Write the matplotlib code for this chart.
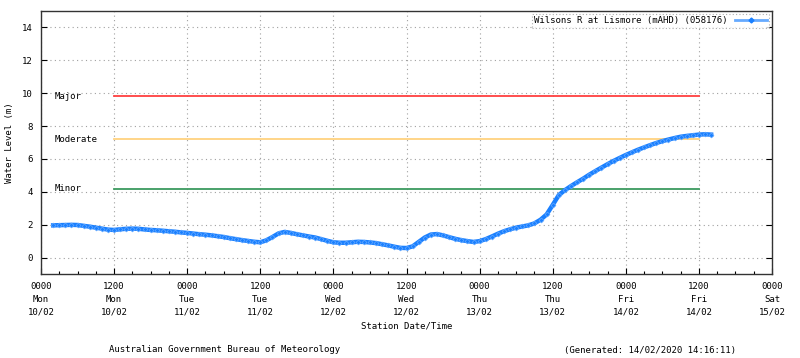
import numpy as np
import matplotlib
matplotlib.use('Agg')
import matplotlib.pyplot as plt
import matplotlib.dates as mdates
from matplotlib.lines import Line2D
import pandas as pd

# hours since Mon 10/02 00:00 and river level (m)
horas = list(range(2, 111))
nivel = [1.96, 1.97, 1.98, 1.99, 1.98, 1.93, 1.88, 1.82, 1.76, 1.70,
         1.68, 1.72, 1.75, 1.76, 1.75, 1.71, 1.68, 1.66, 1.63, 1.60,
         1.57, 1.53, 1.50, 1.46, 1.42, 1.39, 1.35, 1.30, 1.25, 1.18,
         1.12, 1.06, 1.01, 0.96, 0.93, 1.05, 1.25, 1.47, 1.56, 1.50,
         1.42, 1.35, 1.28, 1.22, 1.12, 1.02, 0.93, 0.90, 0.90, 0.93,
         0.96, 0.95, 0.92, 0.88, 0.81, 0.74, 0.66, 0.59, 0.58, 0.68,
         0.95, 1.22, 1.40, 1.43, 1.35, 1.24, 1.14, 1.06, 1.00, 0.95,
         1.00, 1.12, 1.28, 1.45, 1.60, 1.72, 1.82, 1.89, 1.96, 2.08,
         2.30, 2.62, 3.20, 3.80, 4.10, 4.35, 4.58, 4.80, 5.04, 5.26,
         5.47, 5.68, 5.88, 6.06, 6.24, 6.40, 6.56, 6.70, 6.84, 6.97,
         7.08, 7.18, 7.27, 7.35, 7.40, 7.44, 7.48, 7.50, 7.48]

# flood classification levels
classes = ['Major', 'Moderate', 'Minor']
niveis_classe = [9.8, 7.2, 4.2]
cores_classe = ['#ff4040', '#ffd27f', '#3c9a5f']

inicio = pd.Timestamp('2020-02-10 00:00')
fim = pd.Timestamp('2020-02-15 00:00')
t = inicio + pd.to_timedelta(horas, unit='h')
t_classe = [pd.Timestamp('2020-02-10 12:00'), pd.Timestamp('2020-02-14 12:00')]

plt.rcParams['font.family'] = ['DejaVu Sans Mono']
plt.rcParams['font.size'] = 6.5

fig = plt.figure(figsize=(8, 3.58), dpi=100)
ax = fig.add_axes([41/800, 1 - 274/358, (772-41)/800, (274-11)/358])

for nome, v, c in zip(classes, niveis_classe, cores_classe):
  ax.plot(t_classe, [v, v], color=c, linewidth=1.3, zorder=2)
  ax.text(inicio + pd.Timedelta(hours=2.2), v, nome, va='center', ha='left', fontsize=6.5)

ax.plot(t, nivel, color='#1a80ff', linewidth=3.2, marker='D', markersize=2.5,
        markerfacecolor='#1a80ff', markeredgecolor='#66aaff', markeredgewidth=0.5, zorder=3)

ax.set_xlim(inicio, fim)
ax.set_ylim(-1, 15)
ax.set_yticks(np.arange(0, 15, 2))
ax.xaxis.set_major_locator(mdates.HourLocator(byhour=[0, 12]))
ax.xaxis.set_minor_locator(mdates.HourLocator(byhour=[3, 6, 9, 15, 18, 21]))
ax.xaxis.set_major_formatter(mdates.DateFormatter('%H%M\n%a\n%d/%m'))
ax.tick_params(axis='both', which='major', direction='in', length=4, width=0.8, labelsize=6.5, pad=6)
ax.tick_params(axis='x', which='minor', direction='in', length=2.5, width=0.8)
ax.tick_params(axis='y', right=True)
for lab in ax.get_xticklabels():
  lab.set_linespacing(1.5)
ax.grid(True, which='major', color='#a0a0a0', linestyle=(0, (1, 3)), linewidth=0.8)
for s in ax.spines.values():
  s.set_linewidth(1.0)
  s.set_color('#333333')

ax.set_ylabel('Water Level (m)', fontsize=6.5, labelpad=6)
ax.set_xlabel('Station Date/Time', fontsize=6.5, labelpad=4)

amostra = Line2D([], [], color='#66aaff', linewidth=2, marker='D', markersize=2.5,
                 markerfacecolor='#1a80ff', markeredgecolor='#1a80ff')
leg = ax.legend([amostra], ['Wilsons R at Lismore (mAHD) (058176)'], loc='upper right',
                fontsize=6.5, frameon=True, fancybox=False, markerfirst=False,
                handlelength=3.5, borderpad=0.3, borderaxespad=0.3)
leg.get_frame().set_edgecolor('#999999')
leg.get_frame().set_linestyle((0, (1, 2)))
leg.get_frame().set_linewidth(0.8)

fig.text(225/800, 1 - 350/358, 'Australian Government Bureau of Meteorology', ha='center', va='center', fontsize=6.5)
fig.text(650/800, 1 - 350/358, '(Generated: 14/02/2020 14:16:11)', ha='center', va='center', fontsize=6.5)

fig.savefig('out.png', dpi=100)
